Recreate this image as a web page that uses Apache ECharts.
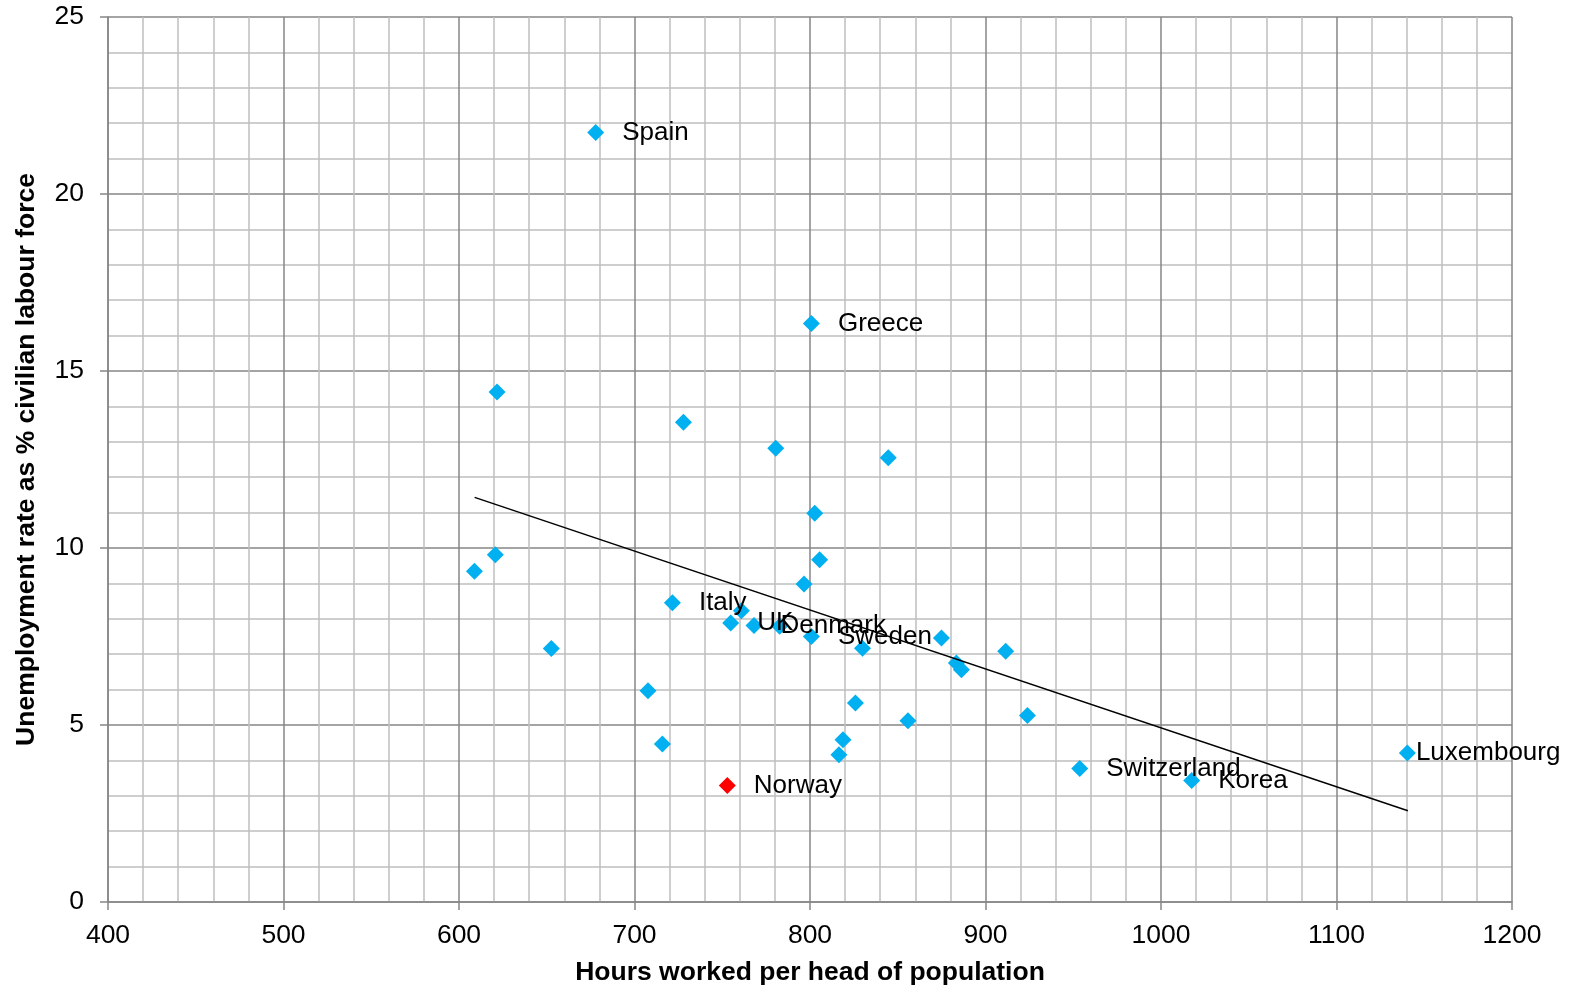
<!DOCTYPE html>
<html>
<head>
<meta charset="utf-8">
<script src="https://cdn.jsdelivr.net/npm/echarts@6/dist/echarts.min.js"></script>
<style>
html,body{margin:0;padding:0;background:#fff;}
#chart{width:1576px;height:986px;}
</style>
</head>
<body>
<div id="chart"></div>
<script>
// Data
const countries = ['Spain','Greece','','','','','','','','','','Italy','','UK','Denmark','','Sweden','','','','','','','','','','','','','','Switzerland','Korea','Luxembourg','Norway'];
const hoursWorked = [677.9,800.8,621.7,727.9,780.5,844.6,802.7,620.7,608.8,805.5,796.6,721.6,760.9,754.8,768.1,782.7,800.8,829.9,652.6,874.9,883.4,886.3,911.5,707.7,825.9,855.8,923.9,715.9,818.8,816.5,953.7,1017.5,1140.4,752.9];
const unemploymentRate = [21.74,16.34,14.41,13.55,12.82,12.55,10.98,9.81,9.34,9.67,8.98,8.45,8.23,7.88,7.81,7.79,7.50,7.17,7.16,7.46,6.75,6.56,7.08,5.97,5.62,5.12,5.27,4.46,4.58,4.16,3.77,3.43,4.21,3.29];
const highlightCountry = 'Norway';
const trendHours = [608.9, 1140.7];
const trendRate = [11.43, 2.58];
const xTicks = [400,500,600,700,800,900,1000,1100,1200];
const yTicks = [0,5,10,15,20,25];

const FONT = '"Liberation Sans", Arial, sans-serif';
const BLUE = '#00B0F0';
const RED = '#FF0000';
const FS = 26.5;

const points = hoursWorked.map((h, i) => {
  const name = countries[i];
  const item = { value: [h, unemploymentRate[i]], name: name };
  if (name === highlightCountry) item.itemStyle = { color: RED };
  if (name) {
    item.label = { show: true, formatter: name, color: '#000000', distance: name === 'Luxembourg' ? 0 : 18 };
  }
  return item;
});

const chart = echarts.init(document.getElementById('chart'), null, { renderer: 'canvas' });
chart.setOption({
  animation: false,
  backgroundColor: '#fff',
  grid: { left: 108, right: 64, top: 17, bottom: 84, containLabel: false, outerBoundsMode: 'none' },
  xAxis: {
    type: 'value',
    min: xTicks[0], max: xTicks[xTicks.length - 1], interval: 100,
    name: 'Hours worked per head of population',
    nameLocation: 'middle', nameGap: 57,
    nameTextStyle: { fontFamily: FONT, fontSize: FS, fontWeight: 'bold', color: '#000' },
    axisLine: { show: true, onZero: false, lineStyle: { color: '#868686', width: 1.5 } },
    axisTick: { show: true, length: 8, lineStyle: { color: '#868686', width: 1.5 } },
    axisLabel: { fontFamily: FONT, fontSize: FS, color: '#000', margin: 20, formatter: v => String(v) },
    splitLine: { show: true, lineStyle: { color: '#868686', width: 1.5 } },
    minorTick: { show: false, splitNumber: 5 },
    minorSplitLine: { show: true, lineStyle: { color: '#BFBFBF', width: 1.5 } }
  },
  yAxis: {
    type: 'value',
    min: yTicks[0], max: yTicks[yTicks.length - 1], interval: 5,
    name: 'Unemployment rate as % civilian labour force',
    nameLocation: 'middle', nameGap: 67.5, nameRotate: 90,
    nameTextStyle: { fontFamily: FONT, fontSize: FS, fontWeight: 'bold', color: '#000' },
    axisLine: { show: true, onZero: false, lineStyle: { color: '#868686', width: 1.5 } },
    axisTick: { show: true, length: 8, lineStyle: { color: '#868686', width: 1.5 } },
    axisLabel: { fontFamily: FONT, fontSize: FS, color: '#000', margin: 24, formatter: v => String(v) },
    splitLine: { show: true, lineStyle: { color: '#868686', width: 1.5 } },
    minorTick: { show: false, splitNumber: 5 },
    minorSplitLine: { show: true, lineStyle: { color: '#BFBFBF', width: 1.5 } }
  },
  series: [
    {
      type: 'scatter',
      symbol: 'diamond',
      symbolSize: 17,
      itemStyle: { color: BLUE, opacity: 1 },
      label: { show: false, position: 'right', fontFamily: FONT, fontSize: 26, color: '#000000' },
      labelLayout: { hideOverlap: false },
      data: points,
      z: 3
    },
    {
      type: 'line',
      data: trendHours.map((h, i) => [h, trendRate[i]]),
      symbol: 'none',
      lineStyle: { color: '#000', width: 1.5 },
      z: 4,
      silent: true
    }
  ]
});
</script>
</body>
</html>
